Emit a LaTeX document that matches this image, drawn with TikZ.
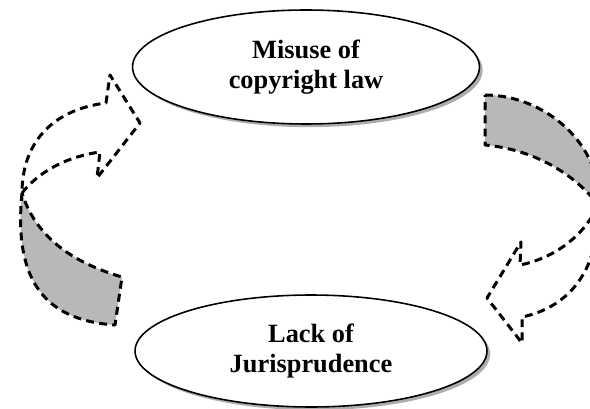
\documentclass[tikz,border=0pt]{standalone}
\usepackage{fontspec}
\setmainfont{Liberation Serif}
\usetikzlibrary{shapes.geometric,shadows}

\tikzset{
  issue/.style={ellipse, draw, line width=0.9pt, fill=white, align=center,
    inner sep=0pt, font=\fontsize{15}{17}\selectfont\bfseries,
    drop shadow={shadow xshift=1.8pt, shadow yshift=-1.8pt, fill=black!40, opacity=0.8}},
  ribbon/.style={line width=1.7pt, dash pattern=on 4.5pt off 3pt, line join=round},
  back/.style={ribbon, fill=black!28}
}

\begin{document}
\begin{tikzpicture}[x=0.02cm,y=-0.02cm]
\useasboundingbox (0,0) rectangle (590,408);

\node[issue, minimum width=6.94cm, minimum height=2.28cm] (misuse) at (306,67) {Misuse of\\copyright law};
\node[issue, minimum width=7.04cm, minimum height=2.24cm] (lack) at (311,351) {Lack of\\Jurisprudence};

% left arrow
\draw[back] (22,193) .. controls (14,275) and (40,320) .. (115,325) -- (122,277)
  .. controls (70,262) and (35,235) .. (22,193) -- cycle;
\draw[ribbon] (22,193) .. controls (40,170) and (70,156) .. (100,152) -- (97,178)
  -- (140,123) -- (110,75) -- (106,103) .. controls (50,110) and (22,145) .. (22,193);

% right arrow
\draw[back] (485,95) .. controls (545,95) and (603,145) .. (598,205)
  .. controls (580,180) and (540,150) .. (485,145) -- cycle;
\draw[ribbon] (598,205) .. controls (585,235) and (555,258) .. (520,265) -- (521,242)
  -- (487,298) -- (522,343) -- (522,317) .. controls (565,308) and (600,275) .. (598,205);

\end{tikzpicture}
\end{document}
